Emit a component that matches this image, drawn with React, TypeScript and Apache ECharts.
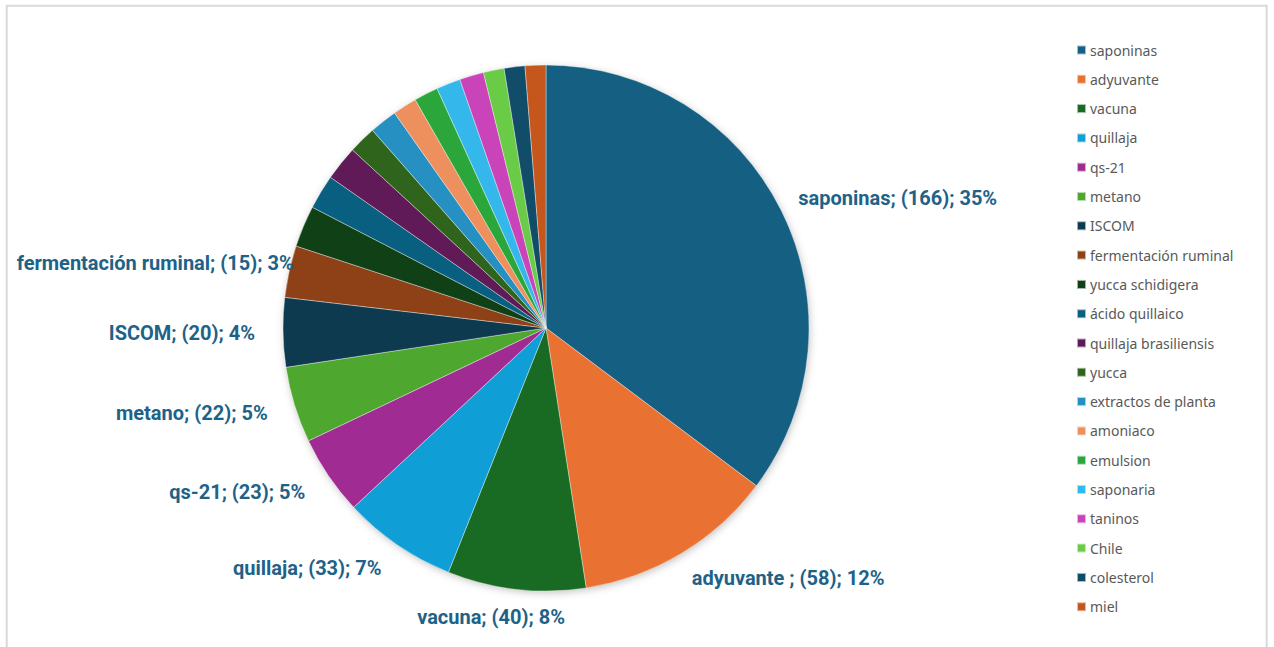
import React, { useEffect, useRef } from "react";
import * as echarts from "echarts";

const categories = [
  "saponinas",
  "adyuvante ",
  "vacuna",
  "quillaja",
  "qs-21",
  "metano",
  "ISCOM",
  "fermentación ruminal",
  "yucca schidigera",
  "ácido quillaico",
  "quillaja brasiliensis",
  "yucca",
  "extractos de planta",
  "amoniaco",
  "emulsion",
  "saponaria",
  "taninos",
  "Chile",
  "colesterol",
  "miel",
];

const values = [166, 58, 40, 33, 23, 22, 20, 15, 12, 10, 10, 8, 8, 7, 7, 7, 7, 6, 6, 6];

const colors = [
  "#156082", "#E97132", "#196B24", "#0F9ED5", "#A02B93", "#4EA72E",
  "#0D3A4E", "#8E4117", "#0F4016", "#095F80", "#601A58", "#2F641C",
  "#2790C2", "#EE8F5E", "#2AA63A", "#34B8EC", "#C944B8", "#6ACB47",
  "#114D68", "#C5561C",
];

// extra nudges for individual labels (pixels), keyed by category index
const labelNudge: Record<number, [number, number]> = {
  0: [-8, 0],
  1: [-4, 0],
  2: [52, 0],
  7: [32, -2],
};

export default function App() {
  const ref = useRef<HTMLDivElement>(null);

  useEffect(() => {
    if (!ref.current) return;
    const chart = echarts.init(ref.current, undefined, { renderer: "svg" });
    const data = categories.map((name, i) => ({
      name,
      value: values[i],
      itemStyle: { color: colors[i] },
      label: { show: values[i] >= 15 },
    }));
    chart.setOption({
      animation: false,
      backgroundColor: "#ffffff",
      graphic: [
        {
          type: "rect",
          shape: { x: 6.7, y: 5.8, width: 1260, height: 700 },
          style: { fill: "none", stroke: "#d9d9d9", lineWidth: 2 },
          silent: true,
        },
      ],
      legend: {
        orient: "vertical",
        left: 1071,
        top: 38,
        itemWidth: 9,
        itemHeight: 9,
        itemGap: 15.3,
        icon: "rect",
        data: categories,
        textStyle: {
          color: "#595959",
          fontSize: 14,
          fontFamily: "Noto Sans",
          lineHeight: 14,
          padding: [0, 0, 0, -1],
        },
      },
      series: [
        {
          type: "pie",
          name: "shadow",
          silent: true,
          center: [546, 328],
          radius: [0, 262],
          label: { show: false },
          labelLine: { show: false },
          itemStyle: {
            color: "#ffffff",
            shadowBlur: 8,
            shadowColor: "rgba(0,0,0,0.28)",
            shadowOffsetX: 1,
            shadowOffsetY: 2,
          },
          data: [{ name: "__bg", value: 1 }],
          z: 1,
        },
        {
          type: "pie",
          name: "temas",
          center: [546, 328],
          radius: [0, 263],
          startAngle: 90,
          clockwise: true,
          avoidLabelOverlap: false,
          itemStyle: { borderColor: "rgba(255,255,255,0.6)", borderWidth: 0.6 },
          label: {
            position: "outside",
            distanceToLabelLine: 0,
            color: "#1E6287",
            fontSize: 20,
            fontWeight: "bold",
            fontFamily: "Roboto",
            formatter: (p: any) => `${p.name}; (${p.value}); ${Math.round(p.percent)}%`,
          },
          labelLine: { show: false, length: 28, length2: 0 },
          labelLayout: (p: any) => {
            const n = labelNudge[p.dataIndex];
            return n ? { dx: n[0], dy: n[1] } : {};
          },
          data,
          z: 2,
        },
      ],
    });
    return () => chart.dispose();
  }, []);

  return (
    <div
      ref={ref}
      style={{ position: "absolute", left: 0, top: 0, width: 1274, height: 647 }}
    />
  );
}
